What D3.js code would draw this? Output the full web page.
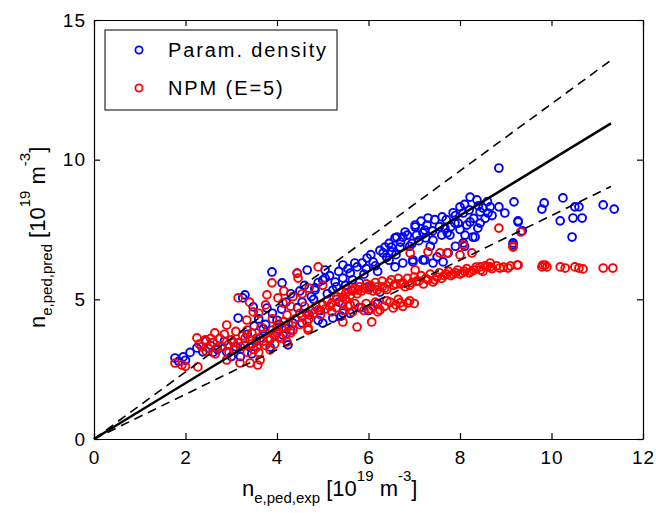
<!DOCTYPE html>
<html>
<head>
<meta charset="utf-8">
<script src="https://cdn.jsdelivr.net/npm/d3@7"></script>
<style>
  body { margin: 0; background: #fff; }
  text { font-family: "Liberation Sans", Arial, sans-serif; fill: #000; }
</style>
</head>
<body>
<div id="viz"></div>
<script>

// data

const xTicks = [0, 2, 4, 6, 8, 10, 12];
const yTicks = [0, 5, 10, 15];

const seriesNames = ["Param. density", "NPM (E=5)"];
const seriesColors = ["#0000ff", "#ff0000"];

const paramDensity = [
  [1.77,2.90],[1.95,2.94],[1.85,2.78],[2.0,2.82],[2.1,3.1],
  [2.25,3.26],[2.38,3.12],[2.45,3.5],[2.55,3.35],[2.6,3.1],[2.7,3.2],[2.9,3.12],[2.85,3.5],[3.0,2.95],[3.1,3.3],
  [3.15,4.33],[3.2,2.95],[3.3,5.16],[3.25,5.05],[3.3,3.35],[3.35,3.75],[3.41,3.29],[3.45,3.05],[3.48,4.73],
  [3.5,4.05],[3.55,3.5],[3.6,4.3],[3.63,3.62],[3.7,3.95],[3.75,4.1],[3.78,4.69],[3.85,3.29],[3.89,5.98],
  [3.9,4.5],[3.95,3.7],[4.0,4.25],[4.05,4.1],[4.1,4.65],[4.11,5.59],[4.13,3.72],[4.2,4.9],[4.2,3.95],
  [4.24,3.37],[4.3,3.9],[4.3,5.2],[4.35,4.15],[4.44,5.94],[4.45,4.7],[4.5,5.3],[4.55,4.9],[4.55,4.15],
  [4.6,5.5],[4.66,6.05],[4.7,4.45],[4.75,5.1],[4.8,5.0],[4.83,5.33],[4.83,5.41],[4.9,5.6],[4.9,4.25],
  [4.95,4.6],[5.0,5.69],[5.0,4.15],[5.05,6.05],[5.05,5.76],[5.1,5.2],[5.15,5.85],[5.22,5.33],[5.22,4.33],
  [5.27,5.62],[5.3,5.45],[5.35,4.9],[5.35,6.0],[5.4,4.4],[5.44,6.23],[5.44,5.76],[5.44,4.51],[5.5,5.5],
  [5.55,6.1],[5.6,5.94],[5.6,4.5],[5.65,5.7],[5.66,5.33],[5.7,6.3],[5.75,6.16],[5.8,5.6],[5.8,4.7],
  [5.86,6.30],[5.9,5.9],[5.95,6.1],[5.97,5.44],[5.97,6.48],[6.0,4.6],[6.03,5.44],[6.05,6.6],[6.1,6.34],
  [6.15,6.2],[6.2,6.0],[6.2,4.85],[6.25,5.26],[6.25,6.75],[6.32,6.66],[6.36,6.87],[6.4,6.5],[6.45,6.4],
  [6.45,7.0],[6.5,6.87],[6.51,6.7],[6.58,6.16],[6.58,7.2],[6.6,6.6],[6.62,7.23],[6.69,6.87],[6.7,7.05],
  [6.75,7.23],[6.75,6.3],[6.8,7.41],[6.85,7.3],[6.9,6.9],[6.95,7.0],[6.97,6.34],[6.97,6.41],[7.02,7.66],
  [7.02,7.59],[7.05,7.3],[7.1,7.1],[7.15,7.8],[7.19,7.38],[7.19,6.41],[7.23,7.48],[7.23,6.41],[7.25,7.2],
  [7.28,7.66],[7.3,7.91],[7.35,6.9],[7.4,7.45],[7.41,7.12],[7.41,6.3],[7.45,7.85],[7.5,6.52],[7.55,7.6],
  [7.6,7.3],[7.61,7.95],[7.63,6.34],[7.67,7.55],[7.7,7.85],[7.72,7.38],[7.74,6.66],[7.78,7.3],[7.8,7.6],
  [7.85,8.1],[7.89,7.73],[7.9,8.0],[7.9,6.9],[7.96,7.73],[8.0,8.31],[8.0,7.5],[8.07,8.09],[8.07,7.02],
  [8.1,8.4],[8.1,6.9],[8.11,7.3],[8.15,7.66],[8.2,8.2],[8.22,8.66],[8.22,7.77],[8.28,7.23],[8.3,7.9],
  [8.33,7.23],[8.37,8.56],[8.39,7.55],[8.4,8.35],[8.44,8.13],[8.44,7.73],[8.5,8.27],[8.55,7.9],[8.6,8.5],
  [8.61,8.09],[8.66,8.31],[8.7,8.0],[8.85,8.31],[8.85,9.70],
  [8.98,8.09],[9.16,6.95],[9.16,7.02],[9.18,8.49],[9.27,7.81],[9.27,7.77],[9.36,7.45],[9.79,8.23],
  [9.84,8.45],[10.19,7.81],[10.25,8.63],[10.45,7.23],[10.47,7.91],[10.51,8.31],[10.6,8.31],
  [10.67,7.91],[11.13,8.38],[11.37,8.23]
];

const npm = [
  [1.77,2.72],[1.92,2.65],[2.0,2.6],[2.27,2.58],[2.25,3.62],[2.3,3.4],[2.43,3.55],[2.35,3.3],[2.45,3.15],
  [2.5,3.25],[2.55,3.6],[2.6,3.45],[2.64,3.8],[2.65,3.05],[2.69,3.26],[2.75,3.6],[2.8,3.3],[2.85,3.75],
  [2.9,4.08],[2.9,2.83],[2.93,3.37],[2.95,3.1],[3.0,3.55],[3.05,3.2],[3.05,3.45],[3.1,3.85],[3.15,5.05],
  [3.15,3.44],[3.19,2.72],[3.2,3.3],[3.25,3.7],[3.3,3.6],[3.34,4.26],[3.35,3.9],[3.35,3.1],[3.4,4.9],
  [3.41,3.55],[3.41,2.72],[3.45,3.4],[3.45,3.8],[3.48,4.55],[3.5,3.2],[3.55,3.6],[3.56,3.29],[3.58,2.65],
  [3.6,3.1],[3.6,4.5],[3.63,2.83],[3.65,4.0],[3.7,3.5],[3.7,3.75],[3.75,3.35],[3.75,4.8],[3.78,5.16],
  [3.8,3.62],[3.85,3.19],[3.85,3.55],[3.89,5.59],[3.9,4.3],[3.9,3.9],[3.95,3.4],[4.0,3.8],[4.0,4.01],
  [4.02,5.05],[4.05,3.65],[4.1,3.6],[4.1,4.0],[4.13,4.87],[4.15,4.2],[4.15,5.3],[4.2,3.75],[4.22,4.44],
  [4.22,3.47],[4.25,4.1],[4.3,3.8],[4.3,4.75],[4.35,3.9],[4.35,5.1],[4.4,4.3],[4.44,5.94],[4.46,5.76],
  [4.5,4.5],[4.5,4.1],[4.55,4.4],[4.55,5.2],[4.6,4.75],[4.65,4.5],[4.66,4.19],[4.68,3.9],[4.68,3.97],
  [4.7,4.3],[4.7,5.4],[4.75,4.6],[4.8,4.5],[4.85,4.75],[4.9,6.16],[4.9,4.62],[4.95,4.45],[5.0,4.8],
  [5.0,5.5],[5.05,4.65],[5.1,4.95],[5.15,4.75],[5.2,4.87],[5.2,4.55],[5.3,5.0],[5.3,5.1],[5.3,4.7],
  [5.4,5.25],[5.44,5.08],[5.44,4.87],[5.44,4.19],[5.45,4.6],[5.5,5.2],[5.5,5.0],[5.55,5.35],[5.55,4.75],
  [5.6,4.8],[5.6,5.15],[5.65,5.3],[5.65,4.55],[5.7,5.4],[5.7,4.85],[5.75,4.01],[5.75,5.2],[5.77,5.33],
  [5.8,5.45],[5.85,4.7],[5.85,5.3],[5.9,5.4],[5.9,4.6],[5.95,5.55],[5.95,4.85],[6.0,5.35],[6.05,5.5],
  [6.05,4.65],[6.07,4.19],[6.1,4.75],[6.1,5.3],[6.15,5.6],[6.15,4.9],[6.19,5.33],[6.2,5.45],[6.2,4.55],
  [6.25,4.62],[6.3,5.45],[6.3,5.65],[6.35,5.4],[6.35,4.75],[6.4,5.35],[6.4,4.95],[6.45,5.6],[6.47,4.9],
  [6.5,5.7],[6.54,4.69],[6.55,5.5],[6.6,5.55],[6.6,4.8],[6.65,5.75],[6.65,5.0],[6.69,4.87],[6.7,5.55],
  [6.75,5.6],[6.75,4.75],[6.8,5.45],[6.85,5.75],[6.86,4.87],[6.9,5.5],[6.9,4.95],[6.91,6.66],[6.95,5.6],
  [7.0,5.8],[7.0,4.85],[7.02,6.05],[7.05,5.65],[7.1,5.65],[7.15,5.85],[7.2,5.55],[7.25,5.75],[7.3,6.7],
  [7.3,5.7],[7.35,5.9],[7.41,5.62],[7.45,5.7],[7.5,5.8],[7.55,5.95],[7.56,6.66],[7.6,5.75],[7.65,5.85],
  [7.7,5.9],[7.72,6.66],[7.75,6.0],[7.8,5.85],[7.85,5.9],[7.9,5.95],[7.95,6.05],[8.0,6.59],[8.0,5.9],
  [8.05,5.95],[8.07,6.95],[8.1,6.0],[8.15,6.1],[8.2,5.95],[8.25,6.0],[8.26,6.66],[8.3,6.05],[8.35,6.15],
  [8.44,6.16],[8.45,6.05],[8.5,6.0],[8.55,6.2],[8.59,6.16],[8.66,6.3],[8.66,6.16],[8.7,6.1],[8.8,6.2],
  [8.85,7.55],[8.87,6.12],[8.95,6.15],[9.05,6.12],[9.1,6.2],[9.16,6.91],[9.16,6.87],[9.25,6.23],
  [9.27,6.23],[9.33,7.41],[9.79,6.16],[9.81,6.23],[9.86,6.23],[9.9,6.16],[10.19,6.16],[10.3,6.12],
  [10.51,6.16],[10.6,6.12],[10.69,6.09],[11.13,6.12],[11.34,6.12]
];

// reference lines y = k * x (fit and +/-20 %)
const lineSlopes = [1.0, 1.2, 0.8];
const lineDashes = [null, "9,6", "9,6"];
const lineXEnd = 11.3;

// dimensions

const dms = {
  width: 656,
  height: 513,
  margins: { top: 20, bottom: 74, left: 94, right: 13 }
};
dms.innerWidth = dms.width - dms.margins.left - dms.margins.right;
dms.innerHeight = dms.height - dms.margins.top - dms.margins.bottom;

// canvas

const svg = d3.select("#viz")
  .append("svg")
    .attr("width", dms.width)
    .attr("height", dms.height);

const g = svg.append("g")
  .attr("transform", `translate(${dms.margins.left},${dms.margins.top})`);

// scales

const xScale = d3.scaleLinear().domain([0, 12]).range([0, dms.innerWidth]);
const yScale = d3.scaleLinear().domain([0, 15]).range([dms.innerHeight, 0]);

// data

const series = [paramDensity, npm];
series.forEach((pts, i) => {
  g.append("g")
    .selectAll("circle")
    .data(pts)
    .join("circle")
      .attr("cx", d => xScale(d[0]))
      .attr("cy", d => yScale(d[1]))
      .attr("r", 3.9)
      .attr("fill", "none")
      .attr("stroke", seriesColors[i])
      .attr("stroke-width", 1.9);
});

lineSlopes.forEach((k, i) => {
  g.append("line")
    .attr("x1", xScale(0))
    .attr("y1", yScale(0))
    .attr("x2", xScale(lineXEnd))
    .attr("y2", yScale(k * lineXEnd))
    .attr("stroke", "#000")
    .attr("stroke-width", i === 0 ? 2.4 : 1.6)
    .attr("stroke-dasharray", lineDashes[i]);
});

// axes

const tickFont = sel => sel.selectAll("text")
  .style("font-size", "19px")
  .style("letter-spacing", "1px")
  .attr("fill", "#000");

g.append("g")
  .attr("transform", `translate(0,${dms.innerHeight})`)
  .call(d3.axisBottom(xScale).tickValues(xTicks).tickSizeInner(-6).tickSizeOuter(0).tickPadding(12))
  .call(tickFont);

g.append("g")
  .call(d3.axisLeft(yScale).tickValues(yTicks).tickSizeInner(-6).tickSizeOuter(0).tickPadding(8))
  .call(tickFont);

g.append("g")
  .call(d3.axisTop(xScale).tickValues(xTicks).tickSizeInner(-6).tickSizeOuter(0).tickFormat(""));

g.append("g")
  .attr("transform", `translate(${dms.innerWidth},0)`)
  .call(d3.axisRight(yScale).tickValues(yTicks).tickSizeInner(-6).tickSizeOuter(0).tickFormat(""));

g.selectAll(".domain, .tick line").attr("stroke", "#000").attr("stroke-width", 1.2);

// axis labels

function addLabel(parent, sub) {
  const t = parent.append("text").style("font-size", "22px");
  t.append("tspan").text("n");
  t.append("tspan").attr("dy", 7).style("font-size", "15px").text(sub);
  t.append("tspan").attr("dy", -7).text("\u00a0[10");
  t.append("tspan").attr("dy", -15).style("font-size", "15px").text("19");
  t.append("tspan").attr("dy", 15).text("\u00a0m");
  t.append("tspan").attr("dy", -15).style("font-size", "15px").text("-3");
  t.append("tspan").attr("dy", 15).text("]");
  return t;
}

addLabel(svg.append("g").attr("transform", "translate(242,496)"), "e,ped,exp");
addLabel(svg.append("g").attr("transform", "translate(45,328) rotate(-90)"), "e,ped,pred");

// legend

const legend = svg.append("g").attr("transform", "translate(105,30)");
legend.append("rect")
  .attr("width", 232)
  .attr("height", 80)
  .attr("fill", "#fff")
  .attr("stroke", "#000")
  .attr("stroke-width", 1);

seriesNames.forEach((name, i) => {
  const row = legend.append("g").attr("transform", `translate(0,${20 + i * 38})`);
  row.append("circle")
    .attr("cx", 34)
    .attr("r", 3.6)
    .attr("fill", "none")
    .attr("stroke", seriesColors[i])
    .attr("stroke-width", 1.8);
  row.append("text")
    .attr("x", 63)
    .attr("y", 7)
    .style("font-size", "20px")
    .style("letter-spacing", "1.9px")
    .text(name);
});

</script>
</body>
</html>
